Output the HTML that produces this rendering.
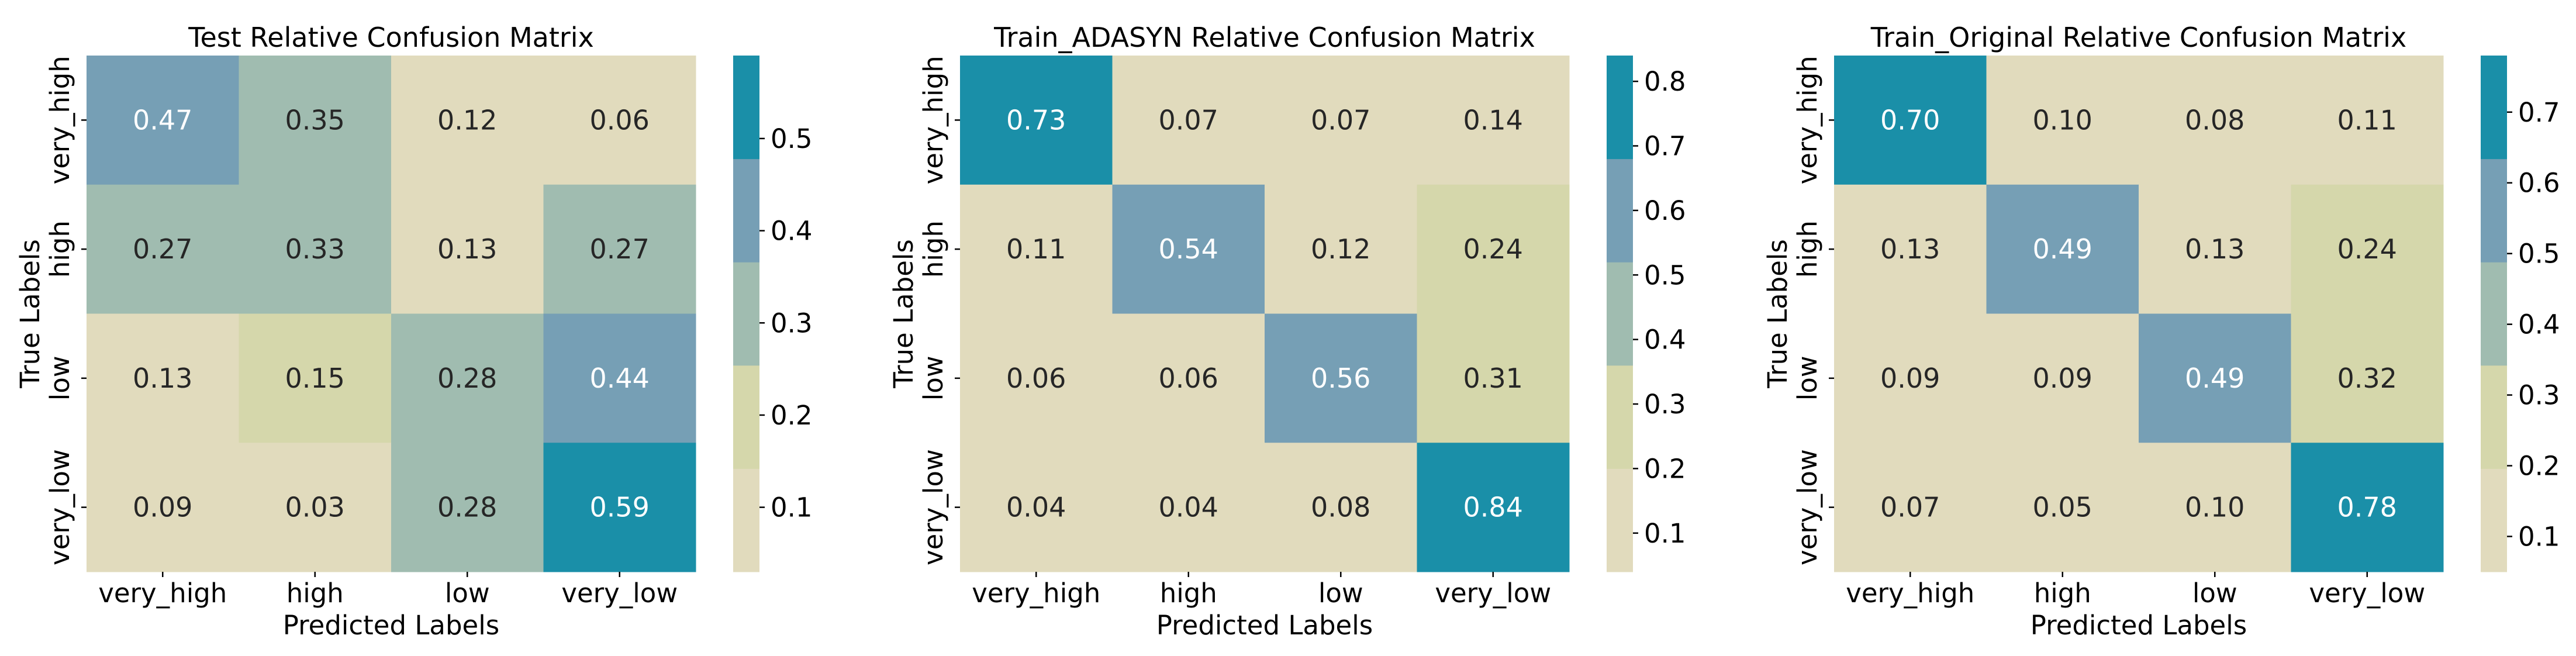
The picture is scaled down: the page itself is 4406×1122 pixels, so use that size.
<!DOCTYPE html>
<html><head><meta charset="utf-8"><style>
html,body{margin:0;padding:0;background:#fff;}
svg{display:block;}
text{font-family:"DejaVu Sans","Liberation Sans",sans-serif;}
</style></head><body>
<svg id="fig" width="4406" height="1122" viewBox="0 0 4406 1122" xmlns="http://www.w3.org/2000/svg"></svg>
<script>
const labels = ["very_high","high","low","very_low"];
const titles = ["Test Relative Confusion Matrix","Train_ADASYN Relative Confusion Matrix","Train_Original Relative Confusion Matrix"];
const testValues = [[0.47,0.35,0.12,0.06],[0.27,0.33,0.13,0.27],[0.13,0.15,0.28,0.44],[0.09,0.03,0.28,0.59]];
const adasynValues = [[0.73,0.07,0.07,0.14],[0.11,0.54,0.12,0.24],[0.06,0.06,0.56,0.31],[0.04,0.04,0.08,0.84]];
const originalValues = [[0.70,0.10,0.08,0.11],[0.13,0.49,0.13,0.24],[0.09,0.09,0.49,0.32],[0.07,0.05,0.10,0.78]];
const testTicks = [0.1,0.2,0.3,0.4,0.5];
const adasynTicks = [0.1,0.2,0.3,0.4,0.5,0.6,0.7,0.8];
const originalTicks = [0.1,0.2,0.3,0.4,0.5,0.6,0.7];
const palette = ["#e1dbbd","#d5d7ab","#a0bcb0","#769fb5","#1a8fa8"];

const NS="http://www.w3.org/2000/svg";
const svg=document.getElementById('fig');
function mk(tag,attrs,parent,txt){const e=document.createElementNS(NS,tag);for(const k in attrs)e.setAttribute(k,attrs[k]);if(txt!==undefined)e.textContent=txt;(parent||svg).appendChild(e);return e;}

const panels=[[testValues,testTicks],[adasynValues,adasynTicks],[originalValues,originalTicks]];
const lefts=[148,1642,3137];
const topY=95,bottomY=978,W=1042;
panels.forEach((p,pi)=>{
  const vals=p[0],ticks=p[1];
  const flat=vals.flat();
  const vmin=Math.min(...flat),vmax=Math.max(...flat);
  const L=lefts[pi],cw=W/4,ch=(bottomY-topY)/4;
  const g=mk('g',{});
  
  
  const band=v=>Math.min(4,Math.floor((v-vmin)/(vmax-vmin)*5));
  const xS=j=>L+j*cw, yS=i=>topY+i*ch;
  vals.forEach((row,i)=>row.forEach((v,j)=>{
    const b=band(v);
    const r=mk('rect',{x:xS(j),y:yS(i),width:cw+0.5,height:ch+0.5,fill:palette[b]},g);
    
    
    const t=mk('text',{x:xS(j)+cw/2,y:yS(i)+ch/2+16,'text-anchor':'middle','font-size':46,fill:b>=3?'#ffffff':'#262626'},g,v.toFixed(2));
    
    
  }));
  const tt=mk('text',{x:L+W/2,y:80,'text-anchor':'middle','font-size':46,fill:'#000'},g,titles[pi]);
  
  
  labels.forEach((lb,k)=>{
    const cx=xS(k)+cw/2;
    mk('line',{x1:cx,x2:cx,y1:bottomY,y2:bottomY+9,stroke:'#000','stroke-width':2.5},g);
    const xt=mk('text',{x:cx,y:1030,'text-anchor':'middle','font-size':45,fill:'#000'},g,lb);
    
    
    const rowY=yS(k)+ch/2;
    mk('line',{x1:L-9,x2:L,y1:rowY,y2:rowY,stroke:'#000','stroke-width':2.5},g);
    const yt=mk('text',{x:0,y:0,'text-anchor':'middle','font-size':45,fill:'#000',transform:`translate(${L-30},${rowY}) rotate(-90)`},g,lb);
    
    
  });
  const xl=mk('text',{x:L+W/2,y:1085,'text-anchor':'middle','font-size':45,fill:'#000'},g,'Predicted Labels');
  
  
  const yl=mk('text',{x:0,y:0,'text-anchor':'middle','font-size':45,fill:'#000',transform:`translate(${L-81},${(topY+bottomY)/2}) rotate(-90)`},g,'True Labels');
  
  
  const cbL=L+1106,cbW=45,bh=(bottomY-topY)/5;
  const cb=mk('g',{},g);
  
  
  for(let b=0;b<5;b++){mk('rect',{x:cbL,y:bottomY-(b+1)*bh,width:cbW,height:bh+0.5,fill:palette[b]},cb);}
  const cbScale=v=>bottomY-(v-vmin)/(vmax-vmin)*(bottomY-topY);
  ticks.forEach(v=>{
    const y=cbScale(v);
    mk('line',{x1:cbL+cbW,x2:cbL+cbW+9,y1:y,y2:y,stroke:'#000','stroke-width':2.5},cb);
    const ct=mk('text',{x:cbL+cbW+19,y:y+16,'font-size':45,fill:'#000'},cb,v.toFixed(1));
    
    
  });
});
</script>
</body></html>
